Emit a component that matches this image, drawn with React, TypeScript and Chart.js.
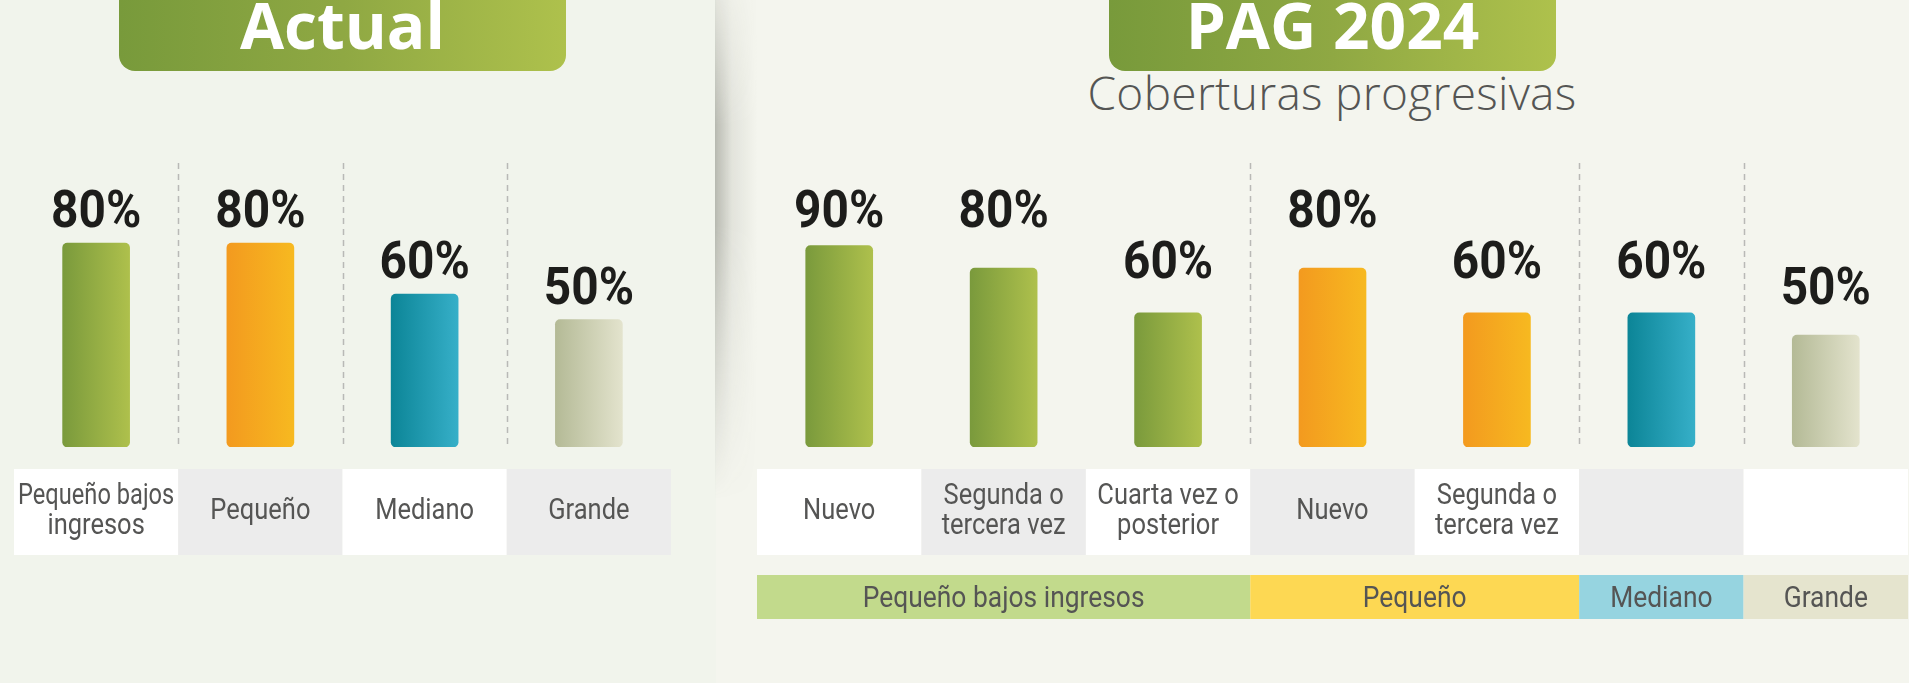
import React, { useEffect, useRef } from "react";
import { Chart, registerables } from "chart.js";

Chart.register(...registerables);

// ---------- DATA ----------
const actualCategories: string[][] = [["Pequeño bajos", "ingresos"], ["Pequeño"], ["Mediano"], ["Grande"]];
const actualValues: number[] = [80, 80, 60, 50];
const actualColors: string[][] = [
  ["#7a9a3c", "#aec04c"],
  ["#f39a1f", "#f7b920"],
  ["#0c8597", "#36afc8"],
  ["#b4ba96", "#e3e3cd"],
];
const actualSeparators: number[] = [1, 2, 3];

const pagCategories: string[][] = [
  ["Nuevo"],
  ["Segunda o", "tercera vez"],
  ["Cuarta vez o", "posterior"],
  ["Nuevo"],
  ["Segunda o", "tercera vez"],
  [""],
  [""],
];
const pagValues: number[] = [90, 80, 60, 80, 60, 60, 50];
const pagColors: string[][] = [
  ["#7a9a3c", "#aec04c"],
  ["#7a9a3c", "#aec04c"],
  ["#7a9a3c", "#aec04c"],
  ["#f39a1f", "#f7b920"],
  ["#f39a1f", "#f7b920"],
  ["#0c8597", "#36afc8"],
  ["#b4ba96", "#e3e3cd"],
];
const pagGroupLabels: string[] = ["Pequeño bajos ingresos", "Pequeño", "Mediano", "Grande"];
const pagGroupSpans: number[] = [3, 2, 1, 1];
const pagGroupFills: string[] = ["#c2da8c", "#fdd853", "#96d4e0", "#e5e4ce"];
const pagSeparators: number[] = [3, 5, 6];

// value labels never sit higher than the level of this value
const LABEL_CAP = 80;

// ---------- STYLE ----------
const BAR_W = 67;
const FONT = '"Roboto", "Liberation Sans", sans-serif';
const TEXT_GREY = "#555554";

function gradFill(pairs: string[][]) {
  return (ctx: any) => {
    const chart = ctx.chart;
    const i = ctx.dataIndex;
    if (i === undefined) return pairs[0][0];
    const [c0, c1] = pairs[i];
    if (!chart.chartArea || !chart.scales.x) return c0;
    const cx = chart.scales.x.getPixelForValue(i);
    const g = chart.ctx.createLinearGradient(cx - BAR_W / 2, 0, cx + BAR_W / 2, 0);
    g.addColorStop(0, c0);
    g.addColorStop(1, c1);
    return g;
  };
}

function squeezedText(ctx: CanvasRenderingContext2D, t: string, x: number, y: number, sx: number, maxW?: number) {
  ctx.save();
  ctx.translate(x, y);
  ctx.scale(sx, 1);
  if (maxW) ctx.fillText(t, 0, 0, maxW / sx);
  else ctx.fillText(t, 0, 0);
  ctx.restore();
}

const decoPlugin = {
  id: "deco",
  beforeDatasetsDraw(chart: any, _args: any, opts: any) {
    const { ctx, chartArea } = chart;
    const xs = chart.scales.x;
    ctx.save();
    ctx.strokeStyle = "#b9b9b6";
    ctx.lineWidth = 1.5;
    ctx.setLineDash([6, 5]);
    (opts.separators || []).forEach((b: number) => {
      const x = Math.round((xs.getPixelForValue(b - 1) + xs.getPixelForValue(b)) / 2) + 0.5;
      ctx.beginPath();
      ctx.moveTo(x, chartArea.top - 29);
      ctx.lineTo(x, chartArea.bottom);
      ctx.stroke();
    });
    ctx.restore();
  },
  afterDatasetsDraw(chart: any, _args: any, opts: any) {
    const { ctx, chartArea } = chart;
    const xs = chart.scales.x;
    const yl = chart.scales.yl;
    const n = chart.data.labels.length;
    const step = n > 1 ? xs.getPixelForValue(1) - xs.getPixelForValue(0) : 100;
    const values: number[] = chart.data.datasets[0].data;
    ctx.save();
    // value labels
    ctx.fillStyle = "#1d1d1b";
    ctx.font = `bold 52px ${FONT}`;
    ctx.textAlign = "center";
    ctx.textBaseline = "alphabetic";
    values.forEach((v, i) => {
      squeezedText(ctx, `${v}%`, xs.getPixelForValue(i), yl.getPixelForValue(Math.min(v, LABEL_CAP)) - 16, 0.92);
    });
    // category cells
    const cy0 = chartArea.bottom + 22;
    const cy1 = chartArea.bottom + 108;
    const mid = (cy0 + cy1) / 2;
    const lines: string[][] = opts.lines;
    ctx.font = `30px ${FONT}`;
    lines.forEach((ls, i) => {
      const cx = xs.getPixelForValue(i);
      ctx.fillStyle = i % 2 === 0 ? "#ffffff" : "#ececec";
      ctx.fillRect(cx - step / 2, cy0, step, cy1 - cy0);
      ctx.fillStyle = TEXT_GREY;
      ls.forEach((t, k) => {
        squeezedText(ctx, t, cx, mid + 7 + (k - (ls.length - 1) / 2) * 29.5, 0.85, step - 8);
      });
    });
    // group band
    if (opts.groups) {
      const gy0 = chartArea.bottom + 128;
      const gy1 = chartArea.bottom + 172;
      let start = 0;
      ctx.font = `30px ${FONT}`;
      opts.groups.forEach((label: string, g: number) => {
        const span = opts.spans[g];
        const x0 = xs.getPixelForValue(start) - step / 2;
        const x1 = xs.getPixelForValue(start + span - 1) + step / 2;
        ctx.fillStyle = opts.fills[g];
        ctx.fillRect(x0, gy0, x1 - x0, gy1 - gy0);
        ctx.fillStyle = TEXT_GREY;
        squeezedText(ctx, label, (x0 + x1) / 2, (gy0 + gy1) / 2 + 10, 0.88);
        start += span;
      });
    }
    ctx.restore();
  },
};

function BarPanel(props: {
  left: number;
  width: number;
  lines: string[][];
  values: number[];
  colors: string[][];
  separators: number[];
  padLeft: number;
  padRight: number;
  yMax: number;
  groups?: string[];
  spans?: number[];
  fills?: string[];
}) {
  const ref = useRef<HTMLCanvasElement | null>(null);
  useEffect(() => {
    if (!ref.current) return;
    const chart = new Chart(ref.current, {
      type: "bar",
      data: {
        labels: props.lines.map((l) => l.join(" ")),
        datasets: [
          {
            data: props.values,
            backgroundColor: gradFill(props.colors) as any,
            barThickness: BAR_W,
            borderRadius: 5,
            borderSkipped: false,
          },
        ],
      },
      options: {
        animation: false,
        responsive: false,
        devicePixelRatio: 1,
        layout: { padding: { left: props.padLeft, right: props.padRight, top: 192, bottom: 236 } },
        scales: {
          x: { display: false, offset: true, grid: { display: false } },
          y: { display: false, min: 0, max: props.yMax },
          yl: { display: false, min: 0, max: 100 },
        },
        plugins: {
          legend: { display: false },
          tooltip: { enabled: false },
          deco: {
            separators: props.separators,
            lines: props.lines,
            groups: props.groups,
            spans: props.spans,
            fills: props.fills,
          },
        } as any,
      },
      plugins: [decoPlugin],
    });
    return () => chart.destroy();
  }, []);
  return (
    <canvas
      ref={ref}
      width={props.width}
      height={683}
      style={{ position: "absolute", left: props.left, top: 0, width: props.width, height: 683 }}
    />
  );
}

const titleBox = (left: number, text: string) => (
  <div
    style={{
      position: "absolute",
      left,
      top: -20,
      width: 447,
      height: 91,
      borderRadius: 16,
      background: "linear-gradient(90deg, #789a3b 0%, #8fa843 50%, #aec14c 100%)",
    }}
  >
    <div
      style={{
        position: "absolute",
        left: 0,
        right: 0,
        top: 13,
        textAlign: "center",
        color: "#ffffff",
        fontFamily: '"Open Sans", sans-serif',
        fontWeight: 700,
        fontSize: 64,
        lineHeight: "64px",
        whiteSpace: "nowrap",
      }}
    >
      {text}
    </div>
  </div>
);

export default function App() {
  return (
    <div
      style={{
        position: "fixed",
        left: 0,
        top: 0,
        width: 1909,
        height: 683,
        overflow: "hidden",
        background: "#f4f5ee",
      }}
    >
      <div style={{ position: "absolute", left: 0, top: 0, width: 716, height: 683, background: "#f1f4ec" }} />
      <div
        style={{
          position: "absolute",
          left: 715,
          top: 0,
          width: 42,
          height: 500,
          background: "linear-gradient(90deg, rgba(70,72,60,0.34) 0%, rgba(70,72,60,0.1) 40%, rgba(70,72,60,0) 100%)",
          WebkitMaskImage: "linear-gradient(180deg, rgba(0,0,0,0.3) 0%, #000 25%, #000 45%, rgba(0,0,0,0) 100%)",
          maskImage: "linear-gradient(180deg, rgba(0,0,0,0.3) 0%, #000 25%, #000 45%, rgba(0,0,0,0) 100%)",
        }}
      />
      {titleBox(119, "Actual")}
      {titleBox(1109, "PAG 2024")}
      <div
        style={{
          position: "absolute",
          left: 1032,
          width: 600,
          top: 69,
          textAlign: "center",
          color: TEXT_GREY,
          fontFamily: '"Open Sans", sans-serif',
          fontWeight: 300,
          fontSize: 46,
          lineHeight: "46px",
          letterSpacing: 0.3,
          whiteSpace: "nowrap",
        }}
      >
        Coberturas progresivas
      </div>
      <BarPanel
        left={0}
        width={716}
        lines={actualCategories}
        values={actualValues}
        colors={actualColors}
        separators={actualSeparators}
        padLeft={14}
        padRight={45}
        yMax={100}
      />
      <BarPanel
        left={740}
        width={1169}
        lines={pagCategories}
        values={pagValues}
        colors={pagColors}
        separators={pagSeparators}
        padLeft={17}
        padRight={1}
        yMax={114}
        groups={pagGroupLabels}
        spans={pagGroupSpans}
        fills={pagGroupFills}
      />
    </div>
  );
}
